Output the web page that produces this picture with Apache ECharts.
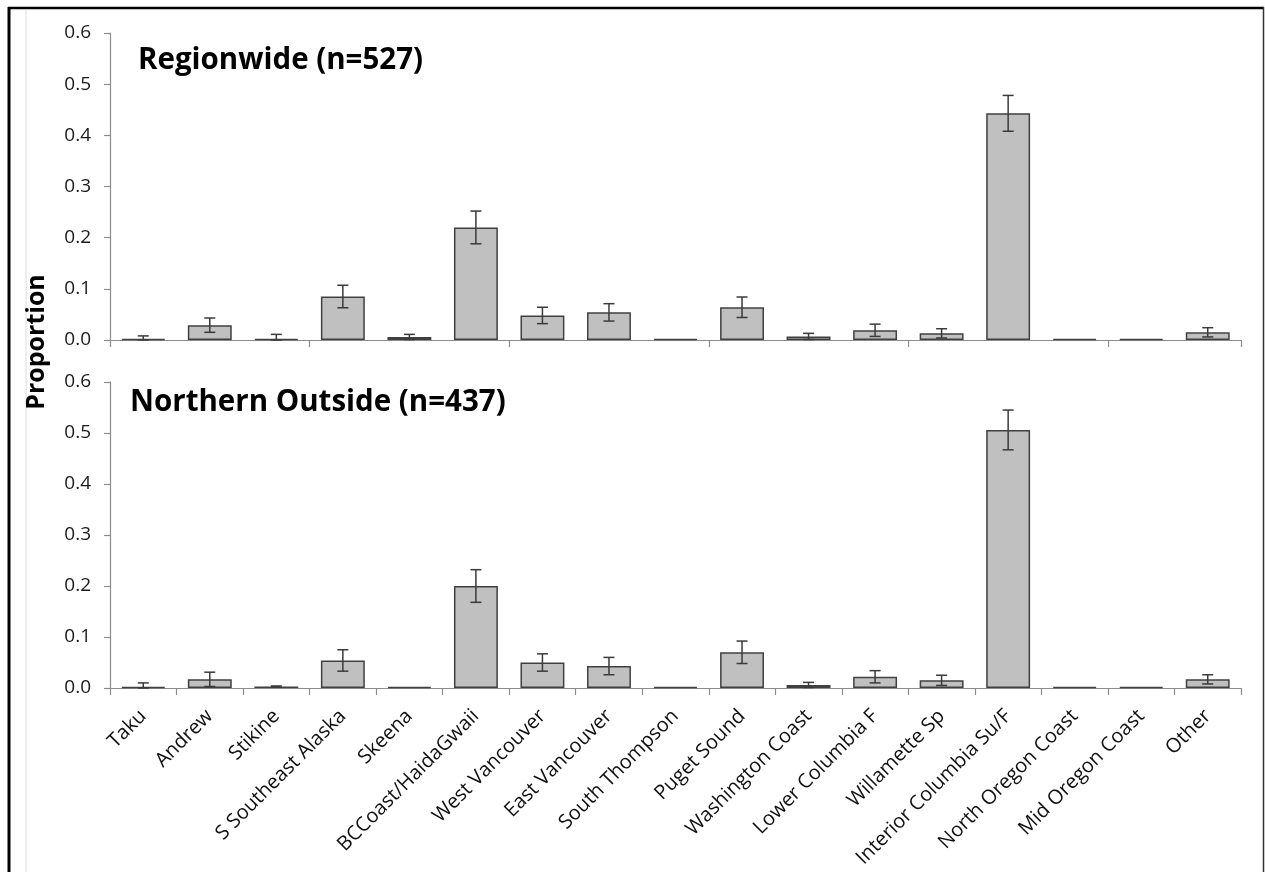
<!DOCTYPE html>
<html>
<head>
<meta charset="utf-8">
<script src="https://cdn.jsdelivr.net/npm/echarts@6/dist/echarts.min.js"></script>
<style>
  html, body { margin: 0; padding: 0; background: #fff; }
  #chart { width: 1265px; height: 872px; }
</style>
</head>
<body>
<div id="chart"></div>
<script>
// ---- Data ----
const categories = ['Taku', 'Andrew', 'Stikine', 'S Southeast Alaska', 'Skeena', 'BCCoast/HaidaGwaii',
  'West Vancouver', 'East Vancouver', 'South Thompson', 'Puget Sound', 'Washington Coast',
  'Lower Columbia F', 'Willamette Sp', 'Interior Columbia Su/F', 'North Oregon Coast',
  'Mid Oregon Coast', 'Other'];

const regionwideValues = [0.002, 0.029, 0.002, 0.085, 0.006, 0.220, 0.048, 0.054, 0.002, 0.064,
  0.007, 0.019, 0.013, 0.443, 0.002, 0.002, 0.015];
const regionwideErrors = [0.006, 0.014, 0.009, 0.022, 0.005, 0.032, 0.016, 0.017, 0, 0.020,
  0.006, 0.012, 0.009, 0.035, 0, 0, 0.009];

const northernValues = [0.002, 0.017, 0.003, 0.054, 0.002, 0.200, 0.050, 0.043, 0.002, 0.070,
  0.006, 0.022, 0.015, 0.506, 0.002, 0.002, 0.017];
const northernErrors = [0.008, 0.014, 0.001, 0.021, 0, 0.032, 0.017, 0.017, 0, 0.022,
  0.005, 0.012, 0.010, 0.039, 0, 0, 0.009];

const panelTitles = ['Regionwide (n=527)', 'Northern Outside (n=437)'];
const yAxisName = 'Proportion';
const yTicks = { min: 0, max: 0.6, interval: 0.1 };

// ---- Chart ----
const FONT = "'Open Sans', 'DejaVu Sans', sans-serif";
const AXIS_GREY = '#8c8c8c';
const chart = echarts.init(document.getElementById('chart'), null, { renderer: 'canvas' });

function errData(vals, errs) {
  return vals.map((v, i) => [i, v, errs[i]]);
}

function errorRender(params, api) {
  const x = api.value(0), v = api.value(1), e = api.value(2);
  if (!e) return null;
  const hi = api.coord([x, v + e]);
  const lo = api.coord([x, Math.max(v - e, 0)]);
  const hw = 5.5;
  const st = { stroke: '#3a3a3a', lineWidth: 1.5 };
  return {
    type: 'group',
    children: [
      { type: 'line', shape: { x1: hi[0], y1: hi[1], x2: lo[0], y2: lo[1] }, style: st },
      { type: 'line', shape: { x1: hi[0] - hw, y1: hi[1], x2: hi[0] + hw, y2: hi[1] }, style: st },
      { type: 'line', shape: { x1: lo[0] - hw, y1: lo[1], x2: lo[0] + hw, y2: lo[1] }, style: st }
    ]
  };
}

function xAxisCfg(gridIndex, showLabels) {
  return {
    type: 'category',
    gridIndex: gridIndex,
    data: categories,
    axisLine: { show: true, lineStyle: { color: AXIS_GREY, width: 1.2 } },
    axisTick: { show: true, length: 7, lineStyle: { color: AXIS_GREY, width: 1.2 } },
    axisLabel: showLabels ? {
      show: true, interval: 0, rotate: 45, margin: 25,
      fontFamily: FONT, fontSize: 20, color: '#111'
    } : { show: false },
    splitLine: { show: false }
  };
}

function yAxisCfg(gridIndex) {
  return {
    type: 'value',
    gridIndex: gridIndex,
    min: yTicks.min, max: yTicks.max, interval: yTicks.interval,
    axisLine: { show: true, lineStyle: { color: AXIS_GREY, width: 1.2 } },
    axisTick: { show: true, length: 6, lineStyle: { color: AXIS_GREY, width: 1.2 } },
    axisLabel: {
      margin: 19, fontFamily: FONT, fontSize: 19, color: '#1a1a1a',
      formatter: v => v.toFixed(1)
    },
    splitLine: { show: false }
  };
}

const barStyle = { color: '#c0c0c0', borderColor: '#404040', borderWidth: 1.5 };

const option = {
  backgroundColor: '#ffffff',
  animation: false,
  title: [
    { text: panelTitles[0], left: 138, top: 46, padding: 0,
      textStyle: { fontFamily: FONT, fontSize: 29.5, fontWeight: 'bold', color: '#000' } },
    { text: panelTitles[1], left: 130, top: 388, padding: 0,
      textStyle: { fontFamily: FONT, fontSize: 29.5, fontWeight: 'bold', color: '#000' } }
  ],
  grid: [
    { left: 110, right: 24, top: 33, height: 307 },
    { left: 110, right: 24, top: 382, height: 306 }
  ],
  xAxis: [xAxisCfg(0, false), xAxisCfg(1, true)],
  yAxis: [yAxisCfg(0), yAxisCfg(1)],
  series: [
    { type: 'bar', xAxisIndex: 0, yAxisIndex: 0, data: regionwideValues,
      barCategoryGap: '34%', itemStyle: barStyle, z: 2 },
    { type: 'custom', xAxisIndex: 0, yAxisIndex: 0, data: errData(regionwideValues, regionwideErrors),
      encode: { x: 0, y: 1 }, renderItem: errorRender, z: 3 },
    { type: 'bar', xAxisIndex: 1, yAxisIndex: 1, data: northernValues,
      barCategoryGap: '34%', itemStyle: barStyle, z: 2 },
    { type: 'custom', xAxisIndex: 1, yAxisIndex: 1, data: errData(northernValues, northernErrors),
      encode: { x: 0, y: 1 }, renderItem: errorRender, z: 3 }
  ],
  graphic: [
    { type: 'line', shape: { x1: 26, y1: 10, x2: 26, y2: 872 }, style: { stroke: '#dcdcdc', lineWidth: 1 }, silent: true },
    { type: 'line', shape: { x1: 8, y1: 8, x2: 1264, y2: 8 }, style: { stroke: '#000', lineWidth: 2.5 }, silent: true },
    { type: 'line', shape: { x1: 9, y1: 7, x2: 9, y2: 872 }, style: { stroke: '#000', lineWidth: 3 }, silent: true },
    { type: 'line', shape: { x1: 1263.5, y1: 7, x2: 1263.5, y2: 872 }, style: { stroke: '#333', lineWidth: 1.5 }, silent: true },
    { type: 'text', x: 37, y: 342, rotation: Math.PI / 2,
      style: { text: yAxisName, fontFamily: FONT, fontSize: 25, fontWeight: 'bold', fill: '#000',
        textAlign: 'center', textVerticalAlign: 'middle' }, silent: true }
  ]
};

chart.setOption(option);
</script>
</body>
</html>
